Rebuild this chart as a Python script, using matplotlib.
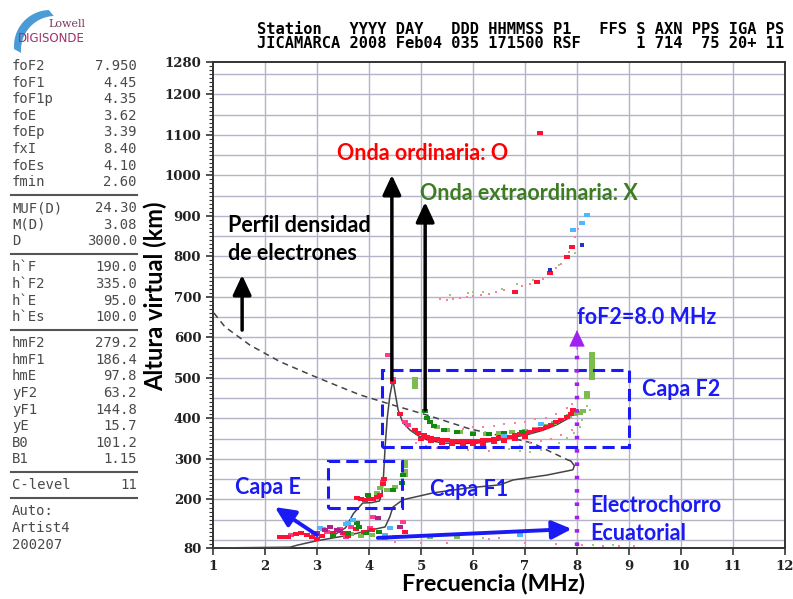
import matplotlib
matplotlib.use("Agg")
import matplotlib.pyplot as plt
from matplotlib.lines import Line2D
from matplotlib.patches import Rectangle, Polygon
import numpy as np

W, H = 793, 599

# ---- cabecera de la estación ----
cabecera_1 = "Station   YYYY DAY   DDD HHMMSS P1   FFS S AXN PPS IGA PS"
cabecera_2 = "JICAMARCA 2008 Feb04 035 171500 RSF      1 714  75 20+ 11"

# ---- parámetros escalados (panel izquierdo), por grupos ----
param_nombres = [
    ["foF2", "foF1", "foF1p", "foE", "foEp", "fxI", "foEs", "fmin"],
    ["MUF(D)", "M(D)", "D"],
    ["h`F", "h`F2", "h`E", "h`Es"],
    ["hmF2", "hmF1", "hmE", "yF2", "yF1", "yE", "B0", "B1"],
    ["C-level"],
]
param_valores = [
    ["7.950", "4.45", "4.35", "3.62", "3.39", "8.40", "4.10", "2.60"],
    ["24.30", "3.08", "3000.0"],
    ["190.0", "335.0", "95.0", "100.0"],
    ["279.2", "186.4", "97.8", "63.2", "144.8", "15.7", "101.2", "1.15"],
    ["11"],
]
pie_panel = ["Auto:", "Artist4", "200207"]

# ---- ejes ----
y_ticks = [80, 200, 300, 400, 500, 600, 700, 800, 900, 1000, 1100, 1200, 1280]
x_ticks = list(range(1, 13))

# ---- perfil de densidad (altura real) y su extrapolación ----
perfil_f = [1.0, 2.48, 2.62, 3.0, 3.63, 4.02, 4.31, 4.40, 4.46, 4.65, 5.23, 5.88, 6.52, 6.77, 7.42, 7.92, 7.95, 7.88]
perfil_h = [80, 82, 87, 98, 112, 124, 132, 157, 181, 199, 216, 228, 236, 248, 260, 273, 283, 295]
tope_f = [7.88, 7.83, 7.42, 7.15, 6.71, 5.94, 5.12, 4.46, 3.83, 3.44, 2.87, 2.29, 1.71, 1.23, 1.0]
tope_h = [295, 297, 322, 339, 352, 374, 408, 433, 458, 478, 508, 540, 581, 626, 663]

# ---- trazas virtuales calculadas ----
traza_f1_f = [3.30, 3.55, 3.70, 3.88, 4.05, 4.20, 4.25, 4.28, 4.31, 4.35, 4.40, 4.46]
traza_f1_h = [110, 130, 165, 191, 192, 196, 215, 260, 330, 400, 455, 495]
traza_f2_f = [4.46, 4.52, 4.56, 4.65, 4.79, 4.95, 5.12, 5.42, 5.75, 6.08, 6.4, 6.71, 7.05, 7.35, 7.62, 7.87, 7.95]
traza_f2_h = [495, 450, 421, 390, 371, 357, 347, 339, 338, 339, 344, 352, 360, 371, 385, 403, 420]

# ---- ecos (frecuencia MHz, altura km) ----
eco_rojo = [
    (2.29, 107), (2.38, 107), (2.44, 108), (2.6, 115), (2.7, 118), (2.8, 112), (2.9, 108),
    (3.0, 103), (3.1, 110), (3.3, 117), (3.5, 117), (3.6, 110), (3.75, 128), (3.9, 120),
    (4.05, 125), (4.69, 120),
    (3.77, 203), (3.85, 200), (3.93, 199), (4.0, 200), (4.08, 202), (4.15, 205), (4.22, 212),
    (4.27, 238), (4.28, 250),
    (4.46, 490), (4.6, 412), (4.88, 371), (4.95, 364), (5.05, 358), (5.12, 355), (5.2, 352),
    (5.3, 349), (5.4, 347), (5.5, 346), (5.6, 345), (5.7, 344), (5.8, 344), (5.9, 344),
    (6.0, 345), (6.1, 345), (6.2, 346), (6.3, 347), (6.4, 349), (6.5, 351), (6.6, 353),
    (6.7, 355), (6.8, 358), (6.9, 361), (7.0, 364), (7.1, 367), (7.2, 371), (7.3, 375),
    (7.4, 379), (7.5, 384), (7.6, 390), (7.7, 396), (7.8, 404), (7.88, 412), (7.93, 420),
    (5.0, 348), (5.2, 343), (5.4, 340), (5.6, 338), (5.8, 337), (6.0, 337), (6.2, 338),
    (6.4, 341), (6.6, 345), (6.8, 350), (7.0, 355),
    (6.81, 712), (7.23, 737), (7.48, 759), (7.8, 798), (7.9, 823), (7.29, 1105),
]
eco_rosa = [
    (4.37, 557), (4.46, 498), (4.69, 390), (4.75, 383), (4.27, 243), (2.5, 112), (2.95, 115),
    (3.2, 120), (3.45, 128), (3.65, 133), (4.02, 129), (4.08, 157), (4.65, 144), (3.55, 108),
]
eco_verde = [
    (3.98, 211), (4.46, 223), (4.63, 240), (4.65, 260), (5.08, 418), (5.12, 402), (5.17, 390),
    (5.25, 381), (5.45, 372), (5.7, 366), (6.0, 362), (6.3, 361), (6.6, 363), (6.95, 366),
    (3.77, 142), (3.6, 118), (3.8, 132), (3.3, 110), (4.2, 120), (3.95, 118),
]
eco_verde_claro = [
    (4.15, 216), (4.21, 228), (4.35, 223), (4.5, 231), (4.69, 260), (4.69, 270), (4.69, 282),
    (4.69, 292), (4.88, 478), (4.88, 488), (4.88, 498), (5.3, 378), (5.5, 371), (5.75, 366),
    (6.0, 363), (6.25, 362), (6.5, 363), (6.75, 366), (7.0, 370), (7.2, 375), (7.4, 381),
    (7.55, 388), (7.7, 396), (7.85, 405), (7.97, 412), (8.05, 414), (8.12, 418), (8.19, 452),
    (8.19, 462), (8.29, 500), (8.29, 510), (8.29, 520), (8.29, 530), (8.29, 540), (8.29, 550),
    (8.29, 560), (3.65, 115), (3.85, 110), (4.05, 112), (4.3, 105), (5.17, 107), (5.69, 107),
]
eco_celeste = [
    (3.06, 129), (3.12, 126), (3.6, 142), (3.69, 149), (3.55, 140), (4.4, 129), (4.3, 112),
    (4.5, 108), (6.9, 112), (7.3, 385), (6.6, 357), (8.19, 902), (8.1, 882), (7.92, 865),
]
eco_azul = [(8.1, 828), (7.48, 766)]
eco_magenta = [(3.25, 132), (3.38, 124), (4.17, 154), (4.6, 132), (3.0, 118), (3.15, 125), (3.45, 121)]

# ecos débiles
punto_rosa = [
    (5.37, 695), (5.5, 692), (5.62, 695), (5.75, 698), (5.88, 700), (6.0, 702), (6.15, 704),
    (6.3, 707), (6.45, 711), (6.6, 716), (6.95, 728), (7.1, 733), (7.35, 745), (7.6, 772),
    (7.7, 782), (7.85, 812), (7.97, 848), (8.02, 868),
    (4.9, 340), (5.1, 332), (5.3, 328), (5.5, 325), (5.7, 330), (5.9, 322), (6.1, 327),
    (6.3, 320), (6.5, 330), (6.7, 324), (6.9, 333), (7.1, 340), (7.3, 345), (7.5, 350),
    (7.7, 360), (7.9, 372), (5.8, 375), (6.0, 378), (6.2, 380), (6.4, 382), (6.6, 385),
    (6.8, 388), (7.0, 392), (7.2, 398), (7.4, 402), (7.6, 410), (7.8, 425), (7.9, 435),
    (4.5, 95), (5.0, 93), (5.5, 92), (6.5, 105), (6.3, 103), (7.0, 92), (7.6, 90), (8.1, 87),
    (8.5, 86), (8.8, 86), (9.1, 86),
]
punto_verde = [
    (5.55, 705), (5.9, 710), (6.2, 712), (6.55, 720), (6.85, 732), (7.15, 742), (7.45, 760),
    (7.65, 778), (7.8, 800), (7.96, 808), (6.0, 712),
    (6.7, 325), (6.9, 320), (7.1, 318), (7.3, 322), (7.5, 330), (7.65, 340), (7.8, 352),
    (7.95, 365), (8.05, 380), (8.1, 395), (8.19, 430), (8.25, 420),
    (6.2, 105), (8.3, 88), (8.7, 87), (8.0, 92),
]

# ---- regiones marcadas ----
caja_f2 = (4.25, 330, 9.0, 520)
caja_f1 = (3.21, 180, 4.63, 295)
foF2 = 8.0

AZUL = "#1a1af5"
MORADO = "#a020f0"
FUENTE = "Lato"
MONO = "DejaVu Sans Mono"


def fig_xy(x, y):
    return x / W, 1 - y / H


fig = plt.figure(figsize=(W / 100, H / 100), dpi=100)
ax = fig.add_axes([213 / W, (H - 548) / H, (785 - 213) / W, (548 - 62) / H])

ax.set_xlim(1, 12)
ax.set_ylim(80, 1280)
ax.set_xticks(x_ticks)
ax.set_yticks(y_ticks)
ax.set_yticks(np.arange(80, 1281, 10), minor=True)
ax.tick_params(axis="both", which="major", direction="out", length=5, width=1.2,
               colors="#333333", labelsize=9.5)
ax.tick_params(axis="y", which="minor", direction="out", length=3, width=0.8, colors="#333333")
for lab in ax.get_xticklabels() + ax.get_yticklabels():
    lab.set_fontfamily("DejaVu Serif")
    lab.set_fontweight("bold")
    lab.set_color("#222222")
for sp in ax.spines.values():
    sp.set_color("#333333")
    sp.set_linewidth(1.4)

# rejilla
for f in range(2, 12):
    ax.axvline(f, color="#b4b4c8", lw=1, zorder=0)
for h in range(100, 1280, 50):
    ax.axhline(h, color="#b4b4c8", lw=1, zorder=0)

# perfil y trazas
ax.plot(perfil_f, perfil_h, color="#444444", lw=1.1, zorder=3)
ax.plot(tope_f, tope_h, color="#444444", lw=1.1, ls=(0, (4, 3)), zorder=3)
ax.plot(traza_f1_f, traza_f1_h, color="#444444", lw=1.1, zorder=3)
ax.plot(traza_f2_f, traza_f2_h, color="#444444", lw=1.1, zorder=3)

rect = [(-1, -0.7), (1, -0.7), (1, 0.7), (-1, 0.7)]


def ecos(puntos, color, s):
    f, h = zip(*puntos)
    ax.scatter(f, h, marker=rect, s=s, c=color, linewidths=0, zorder=4)


ecos(punto_rosa, "#ff7f9f", 4)
ecos(punto_verde, "#9acb78", 4)
ecos(eco_verde_claro, "#7dbb4f", 18)
ecos(eco_rosa, "#ff3d8b", 18)
ecos(eco_rojo, "#ff1035", 18)
ecos(eco_verde, "#128a12", 16)
ecos(eco_celeste, "#4db8ff", 14)
ecos(eco_azul, "#2233cc", 12)
ecos(eco_magenta, "#b0208a", 14)

# cajas de capas
for x0, y0, x1, y1 in [caja_f2, caja_f1]:
    ax.add_patch(Rectangle((x0, y0), x1 - x0, y1 - y0, fill=False, ec=AZUL, lw=2.2,
                           ls=(0, (4, 2)), zorder=5))

# línea de foF2
ax.plot([foF2, foF2], [84, 585], color=MORADO, lw=3.2, ls=(0, (0.8, 2.2)), zorder=5)
ax.annotate("", xy=(foF2, 618), xytext=(foF2, 570),
            arrowprops=dict(arrowstyle="-|>,head_length=0.55,head_width=0.26", mutation_scale=20,
                            color=MORADO, lw=0.5, shrinkA=0, shrinkB=0), zorder=6)


def flecha(x0, y0, x1, y1, color, lw=2.5):
    ax.annotate("", xy=(x1, y1), xytext=(x0, y0),
                arrowprops=dict(arrowstyle="-|>,head_length=0.6,head_width=0.28", mutation_scale=20,
                                color=color, lw=lw, shrinkA=0, shrinkB=0), zorder=6)


flecha(1.56, 618, 1.56, 754, "black")
flecha(4.44, 495, 4.44, 1001, "black")
flecha(5.08, 421, 5.08, 934, "black")
flecha(3.0, 112, 2.19, 181, AZUL, 2.8)
flecha(4.17, 105, 7.9, 127, AZUL, 2.8)

# rótulos
rotulos = [
    ("Onda ordinaria: O", 337, 153, "#ff0000"),
    ("Onda extraordinaria: X", 420, 193, "#3c7d22"),
    ("Perfil densidad", 228, 225, "black"),
    ("de electrones", 228, 253, "black"),
    ("foF2=8.0 MHz", 577, 317, AZUL),
    ("Capa F2", 642, 389, AZUL),
    ("Capa E", 235, 488, AZUL),
    ("Capa F1", 430, 489, AZUL),
    ("Electrochorro", 590, 506, AZUL),
    ("Ecuatorial", 590, 533, AZUL),
]
for txt, x, y, c in rotulos:
    fig.text(*fig_xy(x, y), txt, color=c, fontsize=15.5, fontweight="bold", family=FUENTE,
             ha="left", va="center")

fig.text(*fig_xy(493, 584), "Frecuencia (MHz)", fontsize=16.8, fontweight="bold", family=FUENTE,
         ha="center", va="center")
fig.text(*fig_xy(155, 296), "Altura virtual (km)", fontsize=17, fontweight="bold", family=FUENTE,
         ha="center", va="center", rotation=90)

# cabecera
fig.text(*fig_xy(257, 29), cabecera_1, family=MONO, fontweight="bold", fontsize=11.1,
         va="center", ha="left")
fig.text(*fig_xy(257, 44), cabecera_2, family=MONO, fontweight="bold", fontsize=11.1,
         va="center", ha="left")

# panel de parámetros
y = 66
paso = 16.6
for nombres, valores in zip(param_nombres, param_valores):
    for n, v in zip(nombres, valores):
        fig.text(*fig_xy(12, y), n, family=MONO, fontsize=10, color="#4a4a4a",
                 va="center", ha="left")
        fig.text(*fig_xy(137, y), v, family=MONO, fontsize=10, color="#4a4a4a",
                 va="center", ha="right")
        y += paso
    ultimo = y - paso
    ly = ultimo + 13
    fig.add_artist(Line2D([11 / W, 137 / W], [1 - ly / H] * 2, color="#555555", lw=1.5))
    y = ultimo + 26
for n in pie_panel:
    fig.text(*fig_xy(12, y), n, family=MONO, fontsize=10, color="#4a4a4a",
             va="center", ha="left")
    y += paso

# logotipo
t = np.radians(np.linspace(92, 185, 40))
ext = [fig_xy(50 + 36 * np.cos(a), 46 - 36 * np.sin(a)) for a in t]
inte = [fig_xy(55 + 34 * np.cos(a), 50 - 34 * np.sin(a)) for a in t[::-1]]
fig.add_artist(Polygon(ext + inte, closed=True, fc="#4a9bd6", ec="none"))
fig.text(*fig_xy(85, 24), "Lowell", family="DejaVu Serif", fontsize=8, color="#7a3a5a",
         ha="right", va="center")
fig.text(*fig_xy(85, 38), "DIGISONDE", family="DejaVu Sans", fontsize=8.5, color="#a0306a",
         ha="right", va="center")

fig.savefig("out.png", dpi=100)
